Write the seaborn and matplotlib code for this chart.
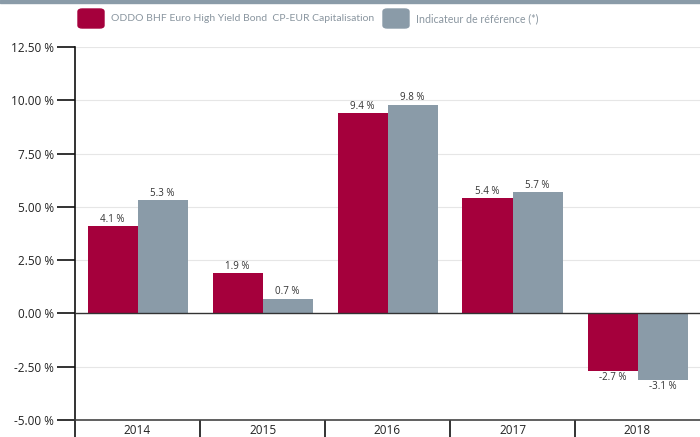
import matplotlib
matplotlib.use("Agg")
import matplotlib.pyplot as plt
from matplotlib.patches import FancyBboxPatch
import seaborn as sns
import pandas as pd

years = ["2014", "2015", "2016", "2017", "2018"]
fund = [4.1, 1.9, 9.4, 5.4, -2.7]
bench = [5.3, 0.7, 9.8, 5.7, -3.1]
series_names = ["ODDO BHF Euro High Yield Bond  CP-EUR Capitalisation",
                "Indicateur de référence (*)"]
yticks = [-5.0, -2.5, 0.0, 2.5, 5.0, 7.5, 10.0, 12.5]

RED = "#a5003c"
GREY = "#8a9ba8"

df = pd.DataFrame({
    "year": years * 2,
    "value": fund + bench,
    "series": [series_names[0]] * 5 + [series_names[1]] * 5,
})

sns.set_theme(style="white")
plt.rcParams["font.family"] = ["Open Sans", "DejaVu Sans"]

W, H = 700, 437
fig = plt.figure(figsize=(7.0, 4.37), dpi=100)
ax = fig.add_axes([75 / W, (H - 420) / H, (700 - 75) / W, (420 - 47) / H])

sns.barplot(data=df, x="year", y="value", hue="series", order=years,
            hue_order=series_names, palette=[RED, GREY], width=0.8,
            saturation=1, ax=ax, legend=False, edgecolor="none")

ax.set_ylim(-5, 12.5)
ax.set_xlim(-0.5, 4.5)
ax.set_yticks(yticks)
ax.set_yticklabels([f"{v:.2f} %" for v in yticks], fontsize=8.5, color="#222222")
ax.set_xlabel("")
ax.set_ylabel("")

for v in yticks:
    if v not in (0.0, -5.0):
        ax.axhline(v, color="#e6e6e6", lw=0.8, zorder=0)
ax.axhline(0, color="#333333", lw=1.0, zorder=3)

for s in ["top", "right"]:
    ax.spines[s].set_visible(False)
ax.spines["left"].set_color("#111111")
ax.spines["left"].set_linewidth(1.2)
ax.spines["bottom"].set_color("#444444")
ax.spines["bottom"].set_linewidth(1.2)

ax.tick_params(axis="y", which="major", direction="out", length=13, width=1.2,
               color="#111111", pad=2, left=True)
ax.tick_params(axis="x", which="major", length=0, pad=3, labelsize=8.5,
               labelcolor="#222222")
ax.set_xticks([0.5, 1.5, 2.5, 3.5], minor=True)
ax.tick_params(axis="x", which="minor", direction="out", length=17, width=1.2,
               color="#111111", bottom=True)

# extend left axis line below the plot
ax.plot([0, 0], [0, -0.05], transform=ax.transAxes, color="#111111",
        lw=1.2, clip_on=False)

# bar labels
for cont in ax.containers:
    labels = [f"{v:.1f} %" for v in cont.datavalues]
    ax.bar_label(cont, labels=labels, fontsize=7, color="#333333", padding=1)

# top band
fig.patches.append(plt.Rectangle((0, 1 - 3 / H), 1, 3 / H, transform=fig.transFigure,
                                 color=GREY, zorder=0))

renderer = fig.canvas.get_renderer()

# legend
def legend_item(x0, color, text, target_w):
    fig.patches.append(FancyBboxPatch((x0 / W, (H - 28) / H), 26 / W, 19 / H,
                                      boxstyle="round,pad=0,rounding_size=0.006",
                                      transform=fig.transFigure, color=color))
    t = fig.text((x0 + 33) / W, (H - 18.5) / H, text, fontsize=9, color="#8a96a0",
                 va="center", ha="left", family=["Lato", "DejaVu Sans"])
    w = t.get_window_extent(renderer).width
    t.set_fontsize(9 * target_w / w)

legend_item(78, RED, series_names[0], 264)
legend_item(383, GREY, series_names[1], 122)

fig.savefig("out.png", dpi=100)
